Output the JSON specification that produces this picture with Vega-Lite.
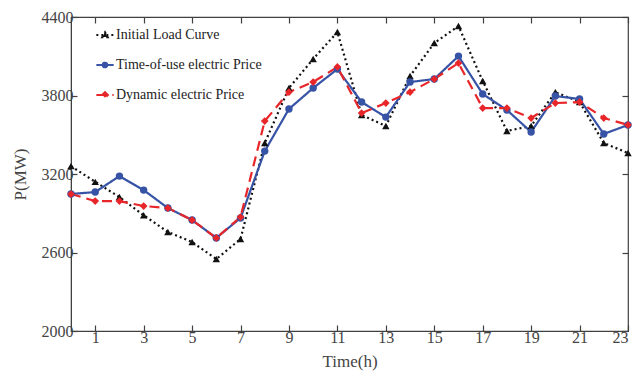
{
  "$schema": "https://vega.github.io/schema/vega-lite/v6.json",
  "autosize": "none",
  "width": 557,
  "height": 314,
  "padding": {"left": 71, "top": 17, "right": 5, "bottom": 41},
  "background": "white",
  "config": {
    "font": "Liberation Serif",
    "view": {"stroke": "#404040", "strokeWidth": 1.2},
    "axis": {"grid": false, "labelFont": "Liberation Serif", "titleFont": "Liberation Serif", "labelFontSize": 16, "titleFontSize": 17, "titleFontWeight": "normal", "labelColor": "#444", "titleColor": "#444", "domainColor": "#404040", "tickColor": "#404040", "tickSize": -6, "tickWidth": 1.2}
  },
  "data": {"values": [
    {"h":0,"s":"Initial Load Curve","v":3260},{"h":1,"s":"Initial Load Curve","v":3140},{"h":2,"s":"Initial Load Curve","v":3024},{"h":3,"s":"Initial Load Curve","v":2885},{"h":4,"s":"Initial Load Curve","v":2757},{"h":5,"s":"Initial Load Curve","v":2680},{"h":6,"s":"Initial Load Curve","v":2550},{"h":7,"s":"Initial Load Curve","v":2703},{"h":8,"s":"Initial Load Curve","v":3437},{"h":9,"s":"Initial Load Curve","v":3857},{"h":10,"s":"Initial Load Curve","v":4079},{"h":11,"s":"Initial Load Curve","v":4285},{"h":12,"s":"Initial Load Curve","v":3651},{"h":13,"s":"Initial Load Curve","v":3567},{"h":14,"s":"Initial Load Curve","v":3949},{"h":15,"s":"Initial Load Curve","v":4201},{"h":16,"s":"Initial Load Curve","v":4331},{"h":17,"s":"Initial Load Curve","v":3911},{"h":18,"s":"Initial Load Curve","v":3529},{"h":19,"s":"Initial Load Curve","v":3567},{"h":20,"s":"Initial Load Curve","v":3826},{"h":21,"s":"Initial Load Curve","v":3750},{"h":22,"s":"Initial Load Curve","v":3437},{"h":23,"s":"Initial Load Curve","v":3360},
    {"h":0,"s":"Time-of-use electric Price","v":3047},{"h":1,"s":"Time-of-use electric Price","v":3062},{"h":2,"s":"Time-of-use electric Price","v":3184},{"h":3,"s":"Time-of-use electric Price","v":3077},{"h":4,"s":"Time-of-use electric Price","v":2940},{"h":5,"s":"Time-of-use electric Price","v":2848},{"h":6,"s":"Time-of-use electric Price","v":2711},{"h":7,"s":"Time-of-use electric Price","v":2864},{"h":8,"s":"Time-of-use electric Price","v":3375},{"h":9,"s":"Time-of-use electric Price","v":3697},{"h":10,"s":"Time-of-use electric Price","v":3857},{"h":11,"s":"Time-of-use electric Price","v":4002},{"h":12,"s":"Time-of-use electric Price","v":3750},{"h":13,"s":"Time-of-use electric Price","v":3635},{"h":14,"s":"Time-of-use electric Price","v":3903},{"h":15,"s":"Time-of-use electric Price","v":3926},{"h":16,"s":"Time-of-use electric Price","v":4101},{"h":17,"s":"Time-of-use electric Price","v":3811},{"h":18,"s":"Time-of-use electric Price","v":3689},{"h":19,"s":"Time-of-use electric Price","v":3521},{"h":20,"s":"Time-of-use electric Price","v":3796},{"h":21,"s":"Time-of-use electric Price","v":3773},{"h":22,"s":"Time-of-use electric Price","v":3506},{"h":23,"s":"Time-of-use electric Price","v":3575},
    {"h":0,"s":"Dynamic electric Price","v":3047},{"h":1,"s":"Dynamic electric Price","v":2993},{"h":2,"s":"Dynamic electric Price","v":2993},{"h":3,"s":"Dynamic electric Price","v":2955},{"h":4,"s":"Dynamic electric Price","v":2940},{"h":5,"s":"Dynamic electric Price","v":2848},{"h":6,"s":"Dynamic electric Price","v":2711},{"h":7,"s":"Dynamic electric Price","v":2871},{"h":8,"s":"Dynamic electric Price","v":3605},{"h":9,"s":"Dynamic electric Price","v":3826},{"h":10,"s":"Dynamic electric Price","v":3903},{"h":11,"s":"Dynamic electric Price","v":4018},{"h":12,"s":"Dynamic electric Price","v":3666},{"h":13,"s":"Dynamic electric Price","v":3742},{"h":14,"s":"Dynamic electric Price","v":3826},{"h":15,"s":"Dynamic electric Price","v":3926},{"h":16,"s":"Dynamic electric Price","v":4048},{"h":17,"s":"Dynamic electric Price","v":3704},{"h":18,"s":"Dynamic electric Price","v":3704},{"h":19,"s":"Dynamic electric Price","v":3628},{"h":20,"s":"Dynamic electric Price","v":3742},{"h":21,"s":"Dynamic electric Price","v":3750},{"h":22,"s":"Dynamic electric Price","v":3628},{"h":23,"s":"Dynamic electric Price","v":3575}
  ]},
  "resolve": {"axis": {"x": "independent", "y": "independent"}},
  "layer": [
    {
      "mark": {"type": "line", "strokeWidth": 2.2},
      "encoding": {
        "x": {"field": "h", "type": "quantitative", "scale": {"domain": [0, 23], "nice": false, "zero": false}, "axis": {"values": [1,3,5,7,9,11,13,15,17,19,21,23], "title": "Time(h)", "labelPadding": 4, "titlePadding": 8, "domain": true}},
        "y": {"field": "v", "type": "quantitative", "scale": {"domain": [2000, 4400], "nice": false, "zero": false}, "axis": {"values": [2000,2600,3200,3800,4400], "format": "d", "title": "P(MW)", "labelPadding": 4, "titlePadding": 12}},
        "color": {"field": "s", "type": "nominal", "sort": ["Initial Load Curve","Time-of-use electric Price","Dynamic electric Price"], "scale": {"domain": ["Initial Load Curve","Time-of-use electric Price","Dynamic electric Price"], "range": ["#111111","#3753a6","#e8262a"]},
          "legend": {"title": null, "orient": "none", "legendX": 24, "legendY": 8, "labelFont": "Liberation Serif", "labelFontSize": 14, "labelColor": "#222", "symbolSize": 300, "symbolStrokeWidth": 2.2, "rowPadding": 13, "labelOffset": 1,
            "encode": {"symbols": {"update": {
              "shape": {"signal": "datum.value === 'Initial Load Curve' ? 'M-1,0H1M-0.3,0.24L0,-0.3L0.3,0.24Z' : datum.value === 'Time-of-use electric Price' ? 'M-1,0H1M-0.26,0A0.26,0.26 0 1,0 0.26,0A0.26,0.26 0 1,0 -0.26,0Z' : 'M-1,0H1M-0.32,0L0,-0.32L0.32,0L0,0.32Z'"},
              "fill": {"signal": "datum.value === 'Initial Load Curve' ? '#111111' : datum.value === 'Time-of-use electric Price' ? '#3753a6' : '#e8262a'"},
              "fillOpacity": {"value": 1}
            }}}}},
        "strokeDash": {"field": "s", "type": "nominal", "sort": ["Initial Load Curve","Time-of-use electric Price","Dynamic electric Price"], "scale": {"domain": ["Initial Load Curve","Time-of-use electric Price","Dynamic electric Price"], "range": [[2,3],[1,0],[10,6]]}, "legend": null}
      }
    },
    {
      "transform": [{"filter": "datum.s === 'Initial Load Curve'"}],
      "mark": {"type": "point", "filled": true, "opacity": 1, "size": 55, "shape": "triangle-up", "color": "#111111"},
      "encoding": {
        "x": {"field": "h", "type": "quantitative", "axis": {"orient": "top", "values": [1,3,5,7,9,11,13,15,17,19,21,23], "labels": false, "title": null, "domain": false}},
        "y": {"field": "v", "type": "quantitative", "axis": {"orient": "right", "values": [2000,2600,3200,3800,4400], "labels": false, "title": null, "domain": false}}
      }
    },
    {
      "transform": [{"filter": "datum.s === 'Time-of-use electric Price'"}],
      "mark": {"type": "point", "filled": true, "opacity": 1, "size": 55, "shape": "circle", "color": "#3753a6"},
      "encoding": {
        "x": {"field": "h", "type": "quantitative", "axis": null},
        "y": {"field": "v", "type": "quantitative", "axis": null}
      }
    },
    {
      "transform": [{"filter": "datum.s === 'Dynamic electric Price'"}],
      "mark": {"type": "point", "filled": true, "opacity": 1, "size": 60, "shape": "diamond", "color": "#e8262a"},
      "encoding": {
        "x": {"field": "h", "type": "quantitative", "axis": null},
        "y": {"field": "v", "type": "quantitative", "axis": null}
      }
    }
  ]
}
